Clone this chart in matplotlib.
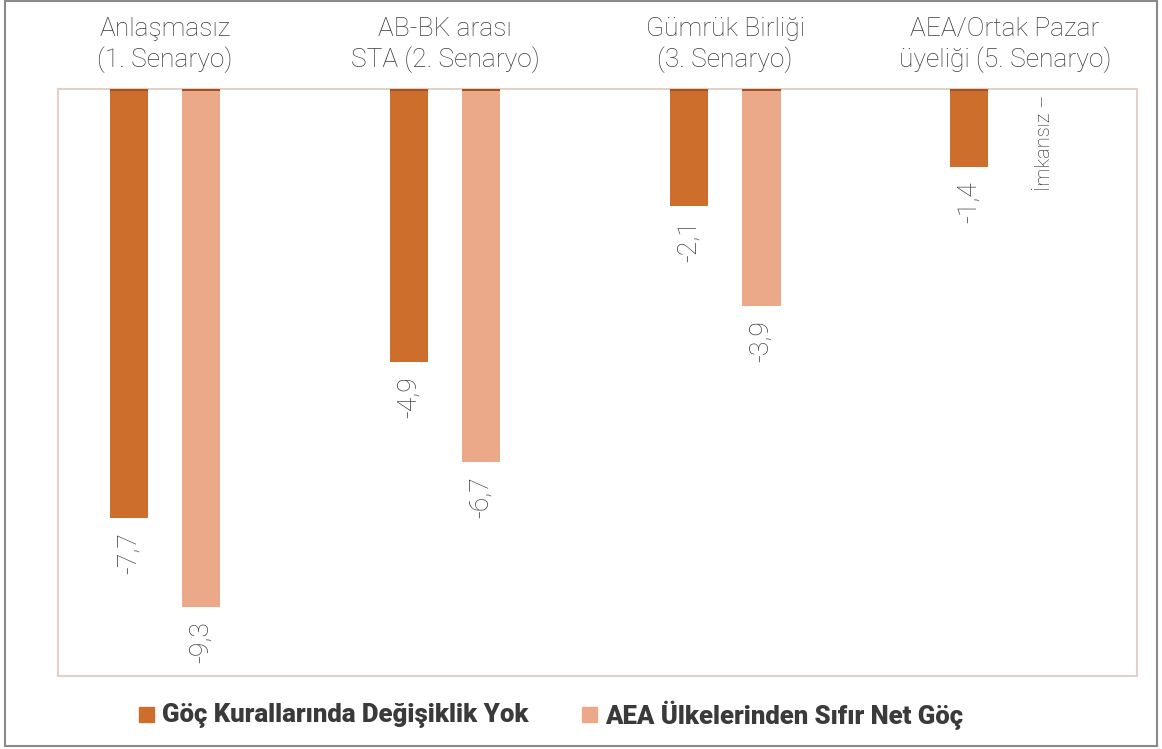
import matplotlib
matplotlib.use("Agg")
import matplotlib.pyplot as plt
from matplotlib.patches import Rectangle

# Data
groups = ["Anlaşmasız\n(1. Senaryo)", "AB-BK arası\nSTA (2. Senaryo)",
          "Gümrük Birliği\n(3. Senaryo)", "AEA/Ortak Pazar\nüyeliği (5. Senaryo)"]
series_names = ["Göç Kurallarında Değişiklik Yok", "AEA Ülkelerinden Sıfır Net Göç"]
no_change = [-7.7, -4.9, -2.1, -1.4]
zero_net = [-9.3, -6.7, -3.9, None]
value_labels_a = ["-7,7", "-4,9", "-2,1", "-1,4"]
value_labels_b = ["-9,3", "-6,7", "-3,9", "İmkansız –"]

c_dark = "#CD6E2D"
c_light = "#ECA98A"
c_strip = "#A3521F"
c_text = "#3c3c3c"

plt.rcParams["font.family"] = ["Roboto", "DejaVu Sans"]

fig = plt.figure(figsize=(11.62, 7.49), dpi=100)
ax = fig.add_axes([58 / 1162, 1 - 676 / 749, (1137 - 58) / 1162, (676 - 89) / 749])

off = 0.13
w = 0.136
x = list(range(len(groups)))

for i in x:
    a = no_change[i]
    ax.bar(i - off, a, width=w, color=c_dark, zorder=2)
    ax.bar(i - off, -0.04, width=w, color=c_strip, zorder=3)
    ax.text(i - off, a - 0.25, value_labels_a[i], rotation=90, ha="center", va="top",
            fontsize=19, color=c_text, fontweight="light")
    b = zero_net[i]
    if b is not None:
        ax.bar(i + off, b, width=w, color=c_light, zorder=2)
        ax.bar(i + off, -0.04, width=w, color=c_strip, zorder=3)
        ax.text(i + off, b - 0.25, value_labels_b[i], rotation=90, ha="center", va="top",
                fontsize=19, color=c_text, fontweight="light")
    else:
        ax.text(i + off + 0.01, -0.1, value_labels_b[i], rotation=90, ha="center", va="top",
                fontsize=14.5, color="#222222", fontweight="light")

ax.set_xlim(-0.382, 3.471)
ax.set_ylim(-10.54, 0)
ax.set_xticks([])
ax.set_yticks([])
for s in ax.spines.values():
    s.set_color("#E3D1C7")
    s.set_linewidth(1.5)

# group titles above the plot area
for i, g in enumerate(groups):
    ax.text(i, 1.028, g, transform=ax.get_xaxis_transform(), ha="center", va="bottom",
            fontsize=19, color=c_text, fontweight="light", linespacing=1.25)

# legend
fig.patches.append(Rectangle((139 / 1162, 1 - 722 / 749), 15 / 1162, 15 / 749,
                             transform=fig.transFigure, color=c_dark))
fig.text(162 / 1162, 1 - 715 / 749, series_names[0], ha="left", va="center",
         fontsize=18.5, fontweight="black", color="#3a3a3a")
fig.patches.append(Rectangle((582 / 1162, 1 - 722 / 749), 15 / 1162, 15 / 749,
                             transform=fig.transFigure, color=c_light))
fig.text(605 / 1162, 1 - 715 / 749, series_names[1], ha="left", va="center",
         fontsize=18.5, fontweight="black", color="#3a3a3a")

# outer frame
fig.patches.append(Rectangle((5 / 1162, 3 / 749), 1152 / 1162, 745 / 749,
                             transform=fig.transFigure, fill=False,
                             edgecolor="#8a8a8a", linewidth=1.5))

fig.savefig("out.png", dpi=100)
